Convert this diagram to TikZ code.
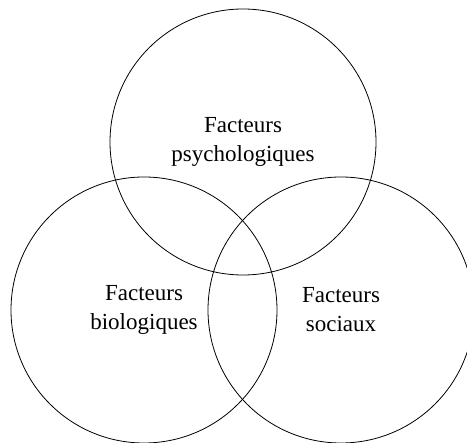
\documentclass[tikz,border=0pt]{standalone}
\usepackage{fontspec}
\setmainfont{Liberation Serif}
\usepackage{tikz}

\tikzset{
	facteur/.style={draw, circle, minimum size=266pt, inner sep=0pt, line width=0.8pt, align=center, font=\fontsize{23}{29}\selectfont}
}

\begin{document}
\begin{tikzpicture}[x=1pt,y=-1pt]
	\useasboundingbox (0,0) rectangle (467,443);
	\clip (0,0) rectangle (467,443);
	%\draw[help lines] (0,0) grid[step=50] (467,443);
	\node[facteur] (psycho) at (243,142) {Facteurs\\psychologiques};
	\node[facteur] (bio) at (144,310) {Facteurs\\biologiques};
	\node[facteur] (social) at (341,310) {Facteurs\\sociaux};
\end{tikzpicture}
\end{document}
